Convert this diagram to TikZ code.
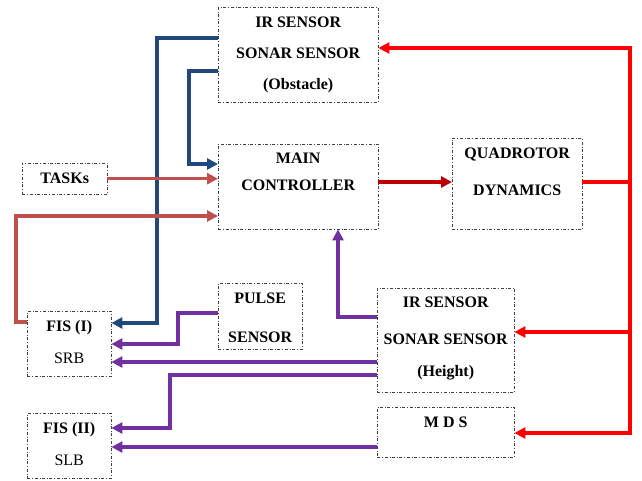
\documentclass[tikz,border=0pt]{standalone}
\usepackage{fontspec}
\setmainfont{Liberation Serif}
\usetikzlibrary{arrows.meta}
\definecolor{sensorblue}{HTML}{1F497D}
\definecolor{taskred}{HTML}{C0504D}
\definecolor{ctrlred}{HTML}{C00000}
\definecolor{feedred}{HTML}{FF0000}
\definecolor{fuzzypurple}{HTML}{7030A0}
\tikzset{
  block/.style={ % dash-dotted box, text height is taken to the last baseline
    draw=black!75, thin, dash dot, inner sep=0pt,
    align=center, anchor=north west,
    font=\bfseries\fontsize{16}{18}\selectfont
  },
  link/.style={ % thick connector with a filled head
    line width=3.2pt, -{Triangle[length=11pt,width=11pt]}
  },
  wire/.style={line width=3.2pt}
}
\begin{document}
\begin{tikzpicture}[x=1pt, y=-1pt]
  \useasboundingbox (0,0) rectangle (642,481);

  \node[block, minimum width=160pt, text height=82pt, text depth=13pt] (obstacle) at (218,7)
    {IR SENSOR\\[13pt] SONAR SENSOR\\[13pt] (Obstacle)};
  \node[block, minimum width=160pt, text height=46pt, text depth=39pt] (main) at (218,144)
    {MAIN\\[9pt] CONTROLLER};
  \node[block, minimum width=85pt, text height=20pt, text depth=11pt] (tasks) at (22,163) {TASKs};
  \node[block, minimum width=130pt, text height=57pt, text depth=34pt] (quad) at (452,138)
    {QUADROTOR\\[19pt] DYNAMICS};
  \node[block, minimum width=84pt, text height=52pt, text depth=13pt] (fis1) at (27,311)
    {FIS (I)\\[14pt] \mdseries SRB};
  \node[block, minimum width=84pt, text height=52pt, text depth=13pt] (fis2) at (27,413)
    {FIS (II)\\[14pt] \mdseries SLB};
  \node[block, minimum width=84pt, text height=59pt, text depth=7pt] (pulse) at (218,283)
    {PULSE\\[21pt] SENSOR};
  \node[block, minimum width=137pt, text height=88pt, text depth=16pt] (height) at (377,288)
    {IR SENSOR\\[19pt] SONAR SENSOR\\[14pt] (Height)};
  \node[block, minimum width=137pt, text height=20pt, text depth=30pt] (mds) at (377,407) {M D S};

  % obstacle sensors
  \draw[link, sensorblue] (obstacle.west |- 0,38) -- (157,38) |- (fis1.east |- 0,323);
  \draw[link, sensorblue] (obstacle.west |- 0,71) -- (189,71) |- (main.west |- 0,164);

  % tasks and fis (I) into controller
  \draw[link, taskred] (tasks.east) -- (main.west |- tasks.east);
  \draw[link, taskred] (fis1.west |- 0,322) -- (16,322) |- (main.west |- 0,216);
  \draw[link, ctrlred] (main.east |- 0,182) -- (quad.west |- 0,182);

  % feedback from the dynamics
  \coordinate (split) at (630,182);
  \draw[wire, feedred] (quad.east |- split) -- (split);
  \draw[link, feedred] (split) |- (obstacle.east |- 0,48);
  \draw[link, feedred] (split) |- (height.east |- 0,332);
  \draw[link, feedred] (split) |- (mds.east |- 0,433);

  % height sensors, pulse and mds
  \draw[link, fuzzypurple] (height.west |- 0,317) -| (main.south -| 338,0);
  \draw[link, fuzzypurple] (pulse.west |- 0,313) -- (178,313) |- (fis1.east |- 0,344);
  \draw[link, fuzzypurple] (height.west |- 0,362) -- (fis1.east |- 0,362);
  \draw[link, fuzzypurple] (height.west |- 0,375) -- (170,375) |- (fis2.east |- 0,428);
  \draw[link, fuzzypurple] (mds.west |- 0,447) -- (fis2.east |- 0,447);
\end{tikzpicture}
\end{document}
